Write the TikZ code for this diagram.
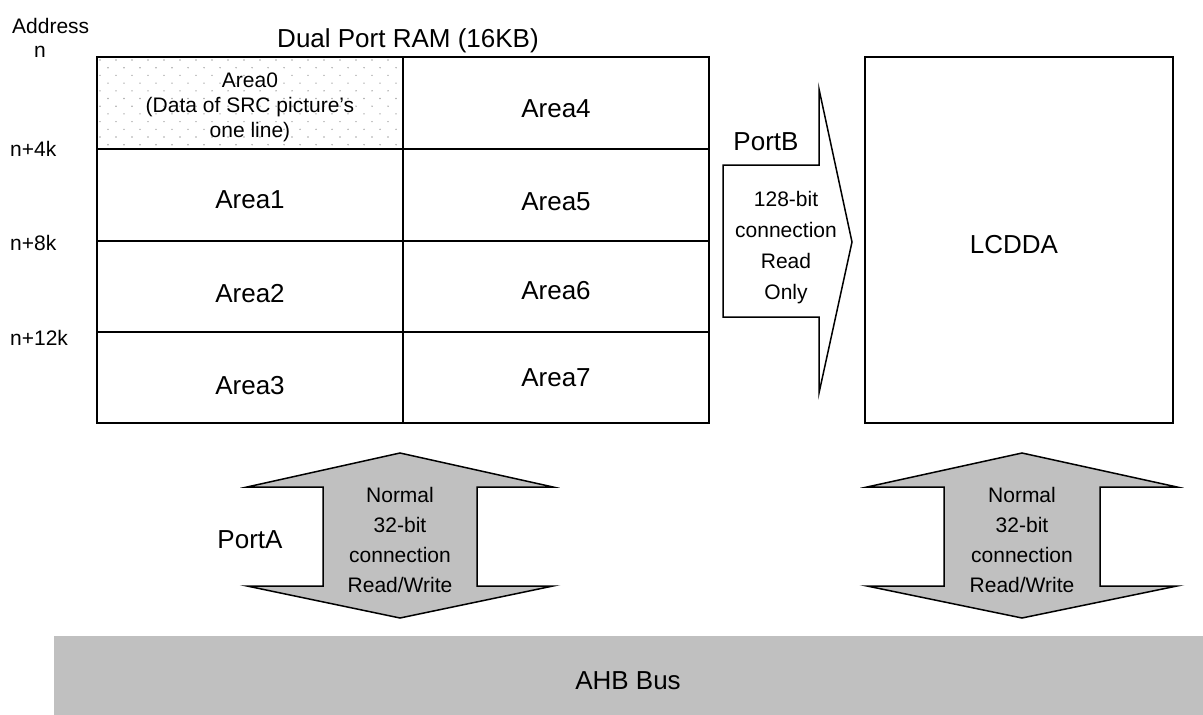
\documentclass[tikz,border=0pt]{standalone}
\usepackage{fontspec}
\setmainfont{Liberation Sans}
\definecolor{busgray}{HTML}{C0C0C0}
\definecolor{dotgray}{HTML}{A8A8A8}
\tikzset{
  big/.style={font=\fontsize{26}{30}\selectfont, inner sep=0pt},
  small/.style={font=\fontsize{21}{25}\selectfont, inner sep=0pt},
  cell/.style={draw, line width=2pt, minimum width=306pt, inner sep=0pt},
  arrowshape/.style={draw, line width=1.5pt, line join=miter},
}
\begin{document}
\begin{tikzpicture}[x=1pt,y=-1pt]
\useasboundingbox (0,0) rectangle (1203,715);

% AHB bus
\fill[busgray] (54,636) rectangle (1203,715);
\node[big, anchor=base] (ahb) at (628,689) {AHB Bus};

% Area0 dotted fill
\begin{scope}
\clip (97,57) rectangle (403,149);
\foreach \r in {0,...,12}{
  \foreach \c in {0,...,19}{
    \fill[dotgray] ({100+16*\c+8*mod(\r,2)},{60+7.7*\r}) circle (0.8pt);
  }
}
\end{scope}

% RAM cells
\node[cell, minimum height=92pt] (c0) at (250,103) {};
\node[cell, minimum height=92pt] (c1) at (250,195) {};
\node[cell, minimum height=91pt] (c2) at (250,286.5) {};
\node[cell, minimum height=91pt] (c3) at (250,377.5) {};
\node[cell, minimum height=92pt] (c4) at (556,103) {};
\node[cell, minimum height=92pt] (c5) at (556,195) {};
\node[cell, minimum height=91pt] (c6) at (556,286.5) {};
\node[cell, minimum height=91pt] (c7) at (556,377.5) {};

\node[small, align=center, font=\fontsize{21}{25}\selectfont] (t0) at (250,107) {Area0\\(Data of SRC picture’s\\one line)};
\node[big, anchor=base] (t1) at (250,208) {Area1};
\node[big, anchor=base] (t2) at (250,302) {Area2};
\node[big, anchor=base] (t3) at (250,394) {Area3};
\node[big, anchor=base] (t4) at (556,117) {Area4};
\node[big, anchor=base] (t5) at (556,210) {Area5};
\node[big, anchor=base] (t6) at (556,299) {Area6};
\node[big, anchor=base] (t7) at (556,386) {Area7};

\node[big, anchor=base] (title) at (408,47) {Dual Port RAM (16KB)};

% Address labels
\node[small, anchor=base west] (addr) at (12,33) {Address};
\node[small, anchor=base] (an) at (40,57) {n};
\node[small, anchor=base west] (a4) at (10,156) {n+4k};
\node[small, anchor=base west] (a8) at (10,250) {n+8k};
\node[small, anchor=base west] (a12) at (10,345) {n+12k};

% LCDDA
\node[draw, line width=1.8pt, minimum width=308pt, minimum height=366pt, big] (lcd) at (1019,240) {};
\node[big, anchor=base] (lcdt) at (1014,253) {LCDDA};

% PortB arrow
\draw[arrowshape, fill=white] (723,165) -- (819,165) -- (819,89) -- (852,242) -- (819,393) -- (819,317) -- (723,317) -- cycle;
\node[big, anchor=base] (pb) at (766,150) {PortB};
\node[small, align=center, font=\fontsize{21}{31}\selectfont] (pbt) at (786,248) {128-bit\\connection\\Read\\Only};

% PortA double arrow
\draw[arrowshape, fill=busgray] (400,453) -- (553,487) -- (477,487) -- (477,586) -- (553,586) -- (400,618) -- (247,586) -- (323,586) -- (323,487) -- (247,487) -- cycle;
\node[small, align=center, font=\fontsize{21}{30}\selectfont] (pat) at (400,540) {Normal\\32-bit\\connection\\Read/Write};
\node[big, anchor=base] (pa) at (250,548) {PortA};

% LCDDA double arrow
\draw[arrowshape, fill=busgray] (1022,453) -- (1177,487) -- (1100,487) -- (1100,586) -- (1177,586) -- (1022,618) -- (867,586) -- (944,586) -- (944,487) -- (867,487) -- cycle;
\node[small, align=center, font=\fontsize{21}{30}\selectfont] (lat) at (1022,540) {Normal\\32-bit\\connection\\Read/Write};
\end{tikzpicture}
\end{document}
